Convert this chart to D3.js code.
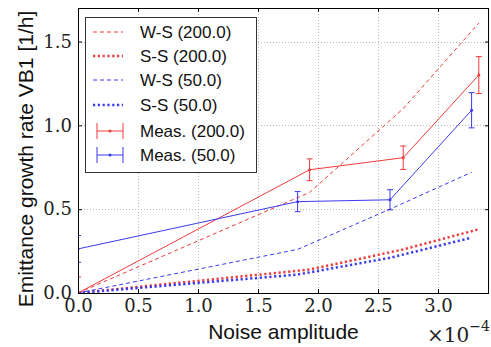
<!DOCTYPE html>
<html>
<head>
<meta charset="utf-8">
<script src="https://cdn.jsdelivr.net/npm/d3@7"></script>
<style>
  body { margin: 0; background: #fff; }
  svg { display: block; }
</style>
</head>
<body>
<figure id="chart" style="margin:0"></figure>
<script>
// noise amplitude (raw values, ticks shown in units of 1e-4)
const xMeas200 = [0, 1.93e-4, 2.71e-4, 3.34e-4];
const xMeas50 = [0, 1.83e-4, 2.60e-4, 3.28e-4];

// simulations
const ws200 = [0, 0.60, 1.10, 1.61];
const ss200 = [0, 0.14, 0.26, 0.38];
const ws50 = [0, 0.26, 0.50, 0.72];
const ss50 = [0, 0.11, 0.21, 0.33];

// measurements with error
const meas200 = [0, 0.735, 0.807, 1.30];
const err200 = [0.095, 0.065, 0.07, 0.11];
const meas50 = [0.263, 0.545, 0.556, 1.09];
const err50 = [0.08, 0.06, 0.06, 0.105];

const xTicks = [0, 0.5e-4, 1.0e-4, 1.5e-4, 2.0e-4, 2.5e-4, 3.0e-4];
const yTicks = [0, 0.5, 1.0, 1.5];
const legendLabels = ["W-S (200.0)", "S-S (200.0)", "W-S (50.0)", "S-S (50.0)", "Meas. (200.0)", "Meas. (50.0)"];

const width = 491, height = 347;
const mLeft = 78, mRight = 489, mTop = 8, mBottom = 293;
const red = "#ee3b3b", blue = "#3b3bee";

const svg = d3.select("figure#chart")
  .append("svg")
  .attr("width", width)
  .attr("height", height);

svg.append("rect").attr("width", width).attr("height", height).attr("fill", "#fff");

const x = d3.scaleLinear().domain([0, 3.425e-4]).range([mLeft, mRight]);
const y = d3.scaleLinear().domain([0, 1.7]).range([mBottom, mTop]);

svg.append("defs").append("clipPath").attr("id", "clip")
  .append("rect")
  .attr("x", mLeft).attr("y", mTop)
  .attr("width", mRight - mLeft).attr("height", mBottom - mTop);

// grid
const grid = svg.append("g").attr("stroke", "#b8b8b8").attr("stroke-width", 1).attr("stroke-dasharray", "1,2");
grid.selectAll("line.gx").data(xTicks.slice(1)).enter().append("line")
  .attr("x1", d => Math.round(x(d)) + 0.5).attr("x2", d => Math.round(x(d)) + 0.5)
  .attr("y1", mTop).attr("y2", mBottom);
grid.selectAll("line.gy").data(yTicks.slice(1)).enter().append("line")
  .attr("x1", mLeft).attr("x2", mRight)
  .attr("y1", d => Math.round(y(d)) + 0.5).attr("y2", d => Math.round(y(d)) + 0.5);

// axes (inward ticks)
const serif = "'DejaVu Serif', serif";
const xAxis = svg.append("g")
  .attr("transform", "translate(0," + mBottom + ")")
  .call(d3.axisBottom(x).tickValues(xTicks).tickSizeInner(-4).tickSizeOuter(0).tickPadding(6)
    .tickFormat(d => (d / 1e-4).toFixed(1)));
const yAxis = svg.append("g")
  .attr("transform", "translate(" + mLeft + ",0)")
  .call(d3.axisLeft(y).tickValues(yTicks).tickSizeInner(-4).tickSizeOuter(0).tickPadding(6)
    .tickFormat(d => d.toFixed(1)));
svg.append("g").attr("transform", "translate(0," + mTop + ")")
  .call(d3.axisTop(x).tickValues(xTicks).tickSizeInner(-4).tickSizeOuter(0).tickFormat(""));
svg.append("g").attr("transform", "translate(" + mRight + ",0)")
  .call(d3.axisRight(y).tickValues(yTicks).tickSizeInner(-4).tickSizeOuter(0).tickFormat(""));
svg.selectAll(".domain").remove();
svg.selectAll(".tick line").attr("stroke", "#000");
xAxis.selectAll("text").attr("font-family", serif).attr("font-size", 18).attr("fill", "#222");
yAxis.selectAll("text").attr("font-family", serif).attr("font-size", 18).attr("fill", "#222");

// plot lines
const plot = svg.append("g").attr("clip-path", "url(#clip)");
const line = d3.line().x(d => x(d[0])).y(d => y(d[1]));

function drawLine(xs, ys, color, dash, w) {
  plot.append("path")
    .datum(d3.zip(xs, ys))
    .attr("d", line)
    .attr("fill", "none")
    .attr("stroke", color)
    .attr("stroke-width", w)
    .attr("stroke-dasharray", dash);
}

drawLine(xMeas200, ws200, red, "4,3", 1);
drawLine(xMeas200, ss200, red, "2.2,2.6", 2.5);
drawLine(xMeas50, ws50, blue, "4,3", 1);
drawLine(xMeas50, ss50, blue, "2.2,2.6", 2.5);

function drawMeas(xs, ys, errs, color) {
  drawLine(xs, ys, color, null, 1);
  const pts = d3.zip(xs, ys, errs);
  const g = plot.append("g").attr("stroke", color).attr("stroke-width", 1);
  g.selectAll("line.bar").data(pts).enter().append("line")
    .attr("x1", d => x(d[0])).attr("x2", d => x(d[0]))
    .attr("y1", d => y(d[1] - d[2])).attr("y2", d => y(d[1] + d[2]));
  [1, -1].forEach(s => {
    g.selectAll("line.cap" + s).data(pts).enter().append("line")
      .attr("x1", d => x(d[0]) - 3).attr("x2", d => x(d[0]) + 3)
      .attr("y1", d => y(d[1] + s * d[2])).attr("y2", d => y(d[1] + s * d[2]));
  });
  plot.append("g").selectAll("circle").data(pts).enter().append("circle")
    .attr("cx", d => x(d[0])).attr("cy", d => y(d[1])).attr("r", 1.5).attr("fill", color);
}

drawMeas(xMeas200, meas200, err200, red);
drawMeas(xMeas50, meas50, err50, blue);

// frame
svg.append("rect")
  .attr("x", mLeft + 0.5).attr("y", mTop + 0.5)
  .attr("width", mRight - mLeft - 1).attr("height", mBottom - mTop)
  .attr("fill", "none").attr("stroke", "#000").attr("stroke-width", 1);

// legend
const sans = "'Liberation Sans', Arial, sans-serif";
const lg = svg.append("g");
lg.append("rect").attr("x", 85.5).attr("y", 17.5).attr("width", 171).attr("height", 155)
  .attr("fill", "#fff").attr("stroke", "#333").attr("stroke-width", 1);
const styles = [
  { c: red, dash: "4,3", w: 1 },
  { c: red, dash: "2.2,2.6", w: 2.5 },
  { c: blue, dash: "4,3", w: 1 },
  { c: blue, dash: "2.2,2.6", w: 2.5 },
  { c: red, err: true },
  { c: blue, err: true }
];
const rowY = [32, 56, 80, 105, 131, 155];
legendLabels.forEach((t, i) => {
  const s = styles[i], yy = rowY[i];
  if (s.err) {
    lg.append("line").attr("x1", 97).attr("x2", 123).attr("y1", yy).attr("y2", yy).attr("stroke", s.c);
    [97, 123].forEach(xx => {
      lg.append("line").attr("x1", xx).attr("x2", xx).attr("y1", yy - 8).attr("y2", yy + 8).attr("stroke", s.c);
    });
    lg.append("circle").attr("cx", 110).attr("cy", yy).attr("r", 1.5).attr("fill", s.c);
  } else {
    lg.append("line").attr("x1", 93).attr("x2", 123).attr("y1", yy).attr("y2", yy)
      .attr("stroke", s.c).attr("stroke-width", s.w).attr("stroke-dasharray", s.dash);
  }
  lg.append("text").attr("x", 140).attr("y", yy).attr("dy", "0.35em")
    .attr("font-family", sans).attr("font-size", 17).attr("fill", "#111").text(t);
});

// axis labels
svg.append("text").attr("x", (mLeft + mRight) / 2).attr("y", 339)
  .attr("text-anchor", "middle").attr("font-family", sans).attr("font-size", 21).attr("fill", "#111")
  .text("Noise amplitude");
svg.append("text").attr("transform", "translate(33,159) rotate(-90)")
  .attr("text-anchor", "middle").attr("font-family", sans).attr("font-size", 21).attr("fill", "#111")
  .text("Emittance growth rate VB1 [1/h]");

// offset text
const off = svg.append("text").attr("x", 427).attr("y", 342)
  .attr("font-family", serif).attr("font-size", 20).attr("fill", "#222");
off.append("tspan").text("×10");
off.append("tspan").attr("dy", -11).attr("font-size", 14).text("−4");
</script>
</body>
</html>
